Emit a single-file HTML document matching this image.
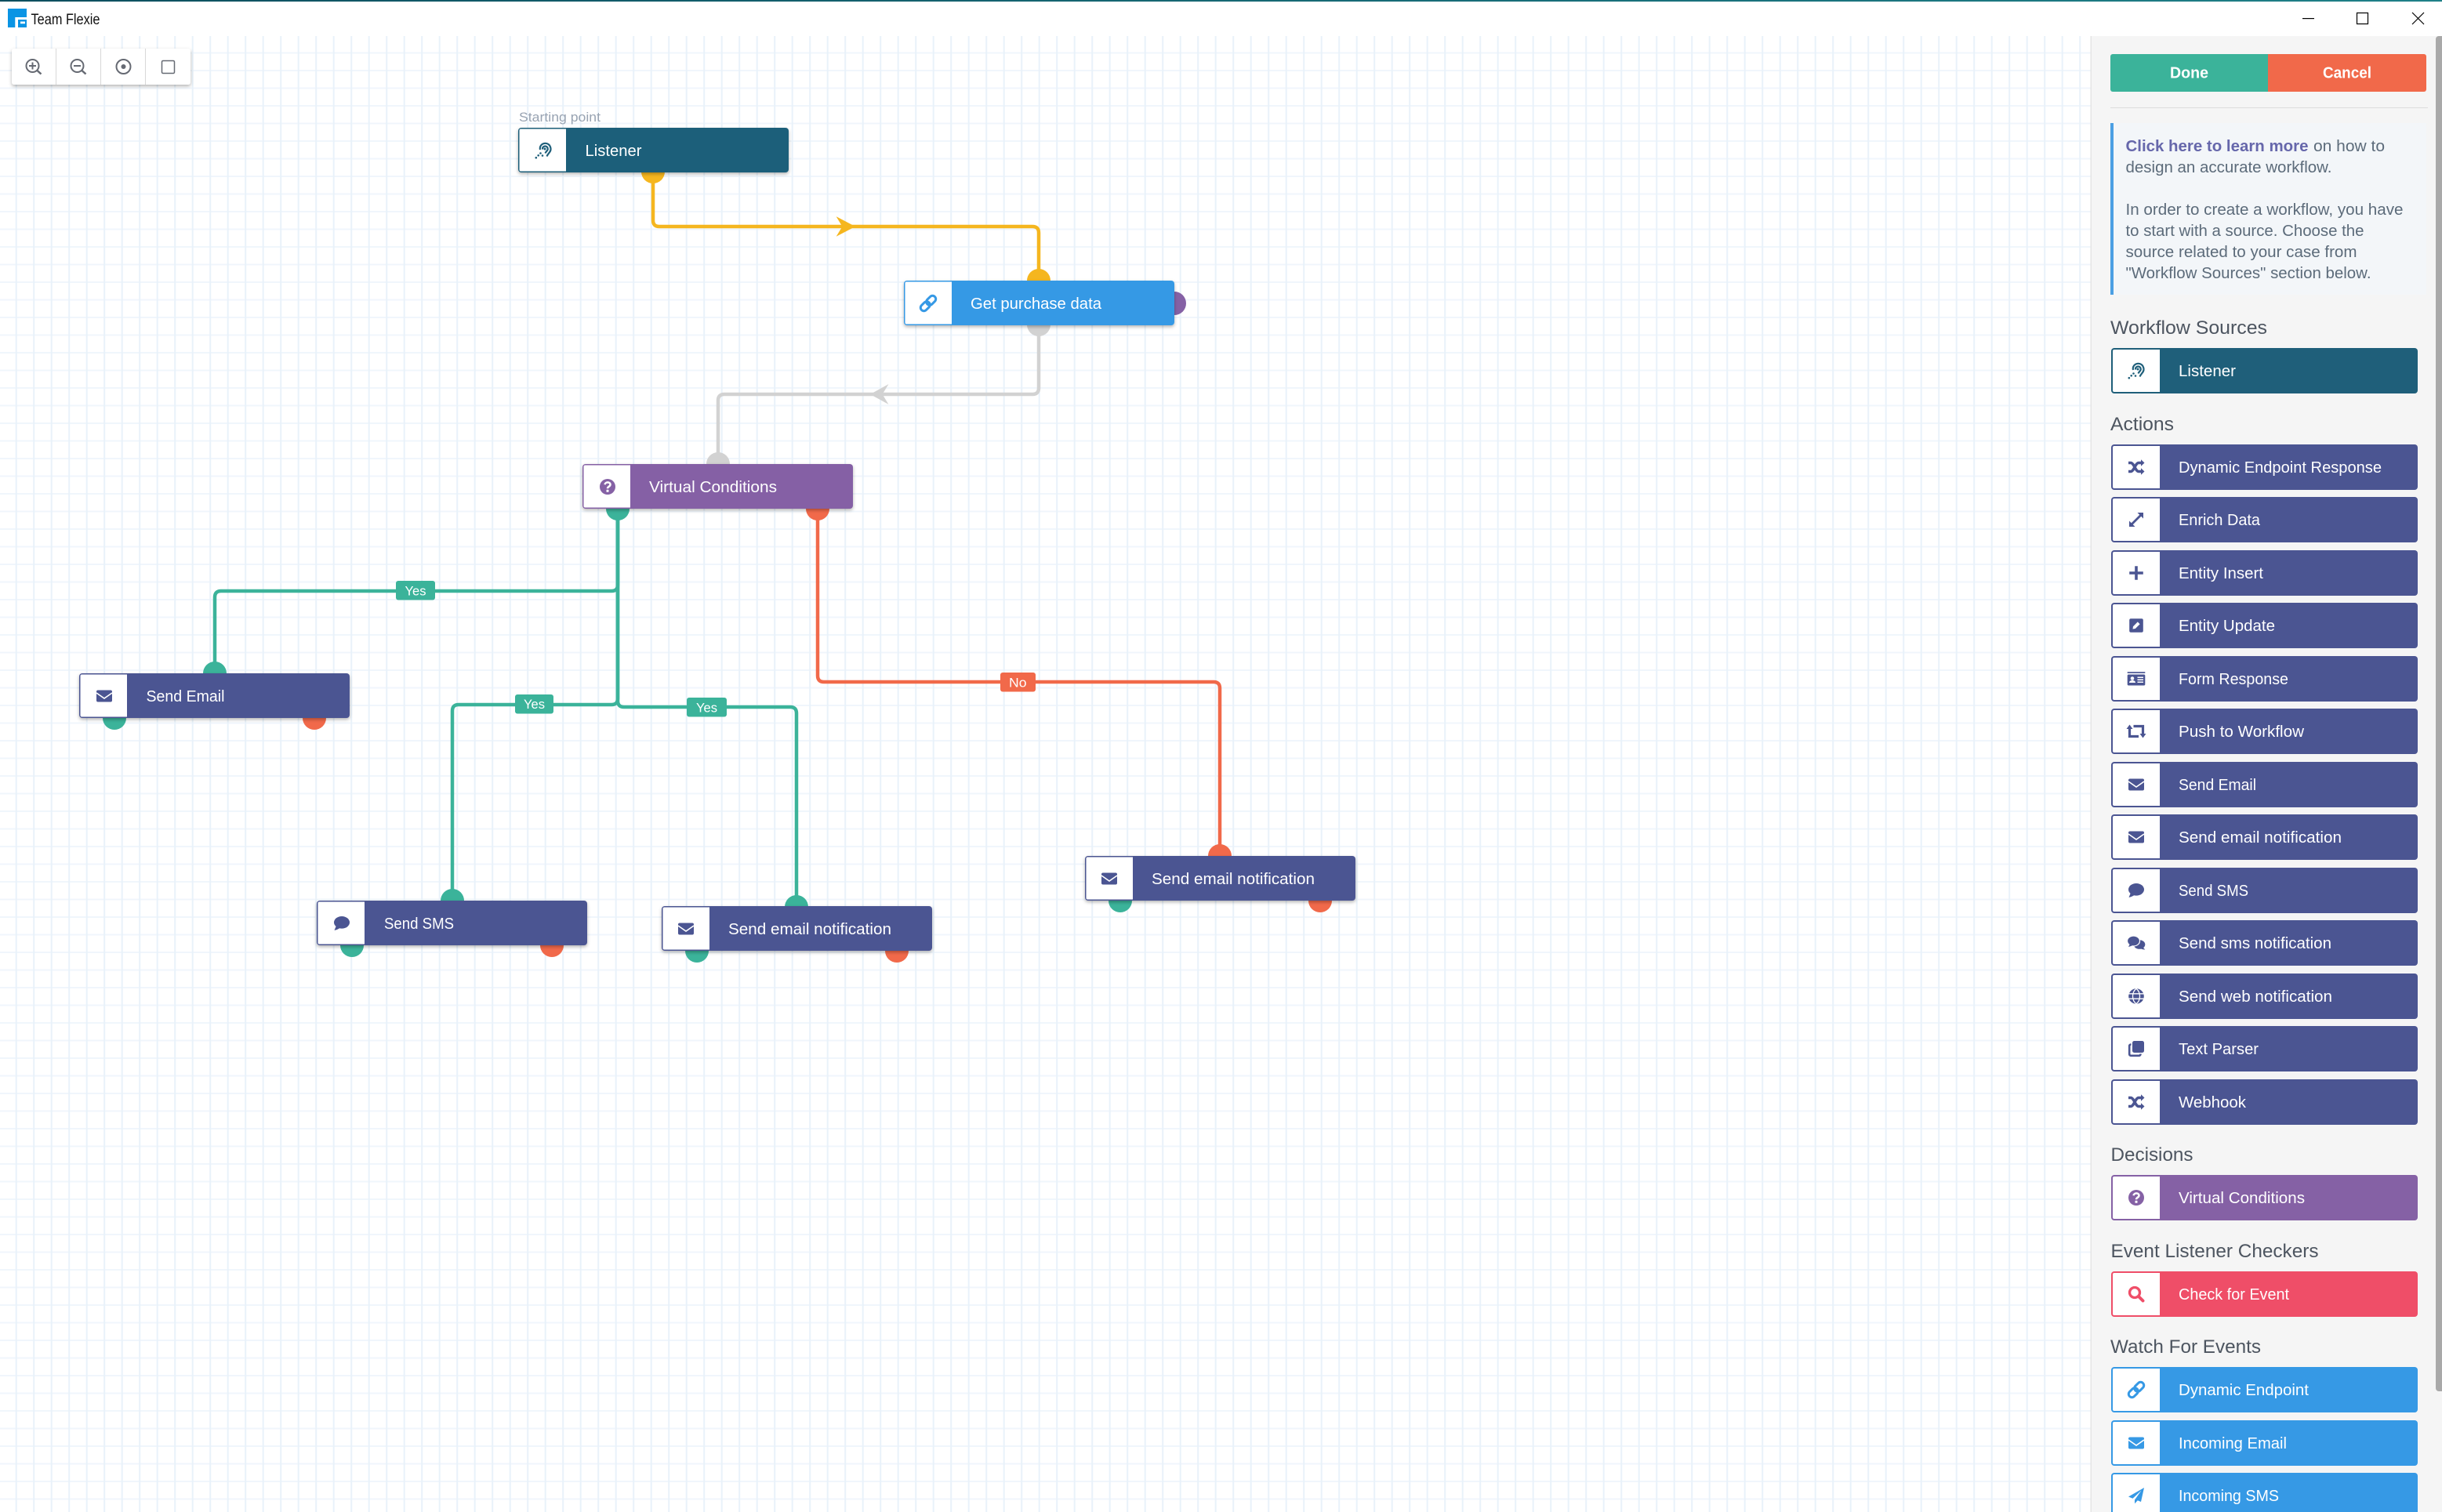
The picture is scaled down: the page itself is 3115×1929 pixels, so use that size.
<!DOCTYPE html>
<html lang="en">
<head>
<meta charset="utf-8">
<title>Team Flexie</title>
<style>
html,body{margin:0;padding:0;width:3115px;height:1929px;overflow:hidden;background:#fff}
svg{display:block}
text{font-family:"Liberation Sans",sans-serif}
.l{fill:#fff;font-size:20.5px}
.h{fill:#4d5560;font-size:24px}
.i{fill:#5c6b7a;font-size:20px}
.t{fill:#fff;font-size:17px}
.c{fill:none;stroke-width:4.5}
</style>
</head>
<body>
<svg width="3115" height="1929" viewBox="0 0 3115 1929" xmlns="http://www.w3.org/2000/svg">
<defs>
<pattern id="grid" x="19.7" y="-1" width="22.5" height="22.5" patternUnits="userSpaceOnUse">
<rect width="22.5" height="2" fill="#f0f6fc"/>
<rect width="2" height="22.5" fill="#e9f2fa"/>
</pattern>
<filter id="sh" x="-5%" y="-20%" width="110%" height="150%"><feDropShadow dx="0" dy="2" stdDeviation="2" flood-color="#000" flood-opacity=".3"/></filter>
<linearGradient id="top" x1="0" x2="1" y1="0" y2="0"><stop offset="0" stop-color="#0d4f5f"/><stop offset="1" stop-color="#1f8088"/></linearGradient>
<g id="env"><rect x="-10" y="-7.5" width="20" height="15" rx="2" fill="currentColor"/><path d="M-10-4L0 3L10-4" fill="none" stroke="#fff" stroke-width="1.6"/></g>
<g id="shuffle"><path d="M-10-5.5H-7C-3-5.5-1 5.5 3 5.5H6M-10 5.5H-7C-3 5.5-1-5.5 3-5.5H6" fill="none" stroke="currentColor" stroke-width="3.4"/><path d="M6-9.8L10.5-5.5L6-1.2ZM6 1.2L10.5 5.5L6 9.8Z" fill="currentColor"/></g>
<g id="expand"><path d="M-5.5 5.5L5.5-5.5" stroke="currentColor" stroke-width="2.8"/><path d="M-9 9V1.5L-1.5 9ZM9-9V-1.5L1.5-9Z" fill="currentColor"/></g>
<path id="plus" d="M-8.8-1.8H-1.8V-8.8H1.8V-1.8H8.8V1.8H1.8V8.8H-1.8V1.8H-8.8Z" fill="currentColor"/>
<g id="edit"><rect x="-8.8" y="-8.8" width="17.6" height="17.6" rx="2" fill="currentColor"/><path d="M-4.5 4.5L-4 1.2L1.8-4.6L4.6-1.8L-1.2 4Z" fill="#fff"/></g>
<g id="card"><rect x="-11.3" y="-8.8" width="22.6" height="1.7" fill="currentColor"/><rect x="-11.3" y="-5.5" width="22.6" height="14" rx="1.5" fill="currentColor"/><circle cx="-5" cy="-.5" r="2.3" fill="#fff"/><path d="M-9 5c0-4 8-4 8 0ZM1.5-2.5H9V-1H1.5ZM1.5.5H9V2H1.5ZM1.5 3.5H9V5H1.5Z" fill="#fff"/></g>
<g id="retweet"><path d="M-8.5-4V6.5H3M-3.5-6.5H8.5V4" fill="none" stroke="currentColor" stroke-width="3.2"/><path d="M-12.5-3L-8.5-8.5L-4.5-3ZM4.500 3L8.5 8.5L12.500 3Z" fill="currentColor"/></g>
<g id="comment"><ellipse cx="0" cy="-1.2" rx="10" ry="7.8" fill="currentColor"/><path d="M-7 3L-9.500 8.800C-6.500 8.500-3.500 7-1.500 5Z" fill="currentColor"/></g>
<g id="comments"><ellipse cx="4" cy="2" rx="7.300" ry="5.800" fill="currentColor"/><path d="M8 5L11.300 8.500C9 8.500 6.500 8 4.500 6.500Z" fill="currentColor"/><ellipse cx="-3.500" cy="-2.500" rx="8" ry="6.500" fill="currentColor" stroke="#fff" stroke-width="1.200"/><path d="M-8 1L-10 5C-7.500 4.500-5.500 3.500-4 2.500Z" fill="currentColor"/></g>
<g id="globe"><circle r="9.800" fill="currentColor"/><path d="M-9.800-3.200H9.800M-9.800 3.200H9.800M0-9.800C-6-5-6 5 0 9.800C6 5 6-5 0-9.800Z" fill="none" stroke="#fff" stroke-width="1.300"/></g>
<g id="copy"><rect x="-5" y="-10" width="15" height="15" rx="2.500" fill="currentColor"/><path d="M-6.500-5.500H-7A2 2 0 0 0-8.800-3.500V7A2 2 0 0 0-6.800 8.800H3.500A2 2 0 0 0 5.500 6.800V6.500" fill="none" stroke="currentColor" stroke-width="2.600"/></g>
<g id="help"><circle r="10" fill="currentColor"/><path d="M-3.400-2.800C-3-6.500 3.500-6.500 3.500-2.800C3.500-.3 0-.3 0 2.200" fill="none" stroke="#fff" stroke-width="2.500"/><rect x="-1.500" y="3.800" width="3" height="3" rx=".6" fill="#fff"/></g>
<g id="search"><circle cx="-2" cy="-2" r="6.500" fill="none" stroke="currentColor" stroke-width="3.300"/><path d="M3 3L8.500 8.500" stroke="currentColor" stroke-width="4" stroke-linecap="round"/></g>
<g id="link"><g transform="rotate(-45)" fill="none" stroke="currentColor" stroke-width="3"><rect x="-12" y="-4.200" width="13.500" height="8.400" rx="4.200"/><rect x="-1.500" y="-4.200" width="13.500" height="8.400" rx="4.200"/></g></g>
<path id="plane" d="M10-10L-10 1.500L-4.500 3.800L6.500-6.500L-2 5.500V10.200L1.800 6.200L6 8Z" fill="currentColor"/>
<g id="ear"><path d="M-4-1C-6-10 8-13 9.500-2.500C10 2 6 3.500 4.500 7.500M-1-1.500C-1.500-6.500 5.500-7 5.800-2C6-.2 3.500 1 2.500 3.500" fill="none" stroke="currentColor" stroke-width="2.200"/><circle cx="2" cy="-2" r="1.500" fill="currentColor"/><circle cx="-3.500" cy="3.500" r="1.300" fill="currentColor"/><circle cx="-6.300" cy="6.300" r="1.300" fill="currentColor"/><circle cx="-9.200" cy="9.200" r="1.300" fill="currentColor"/><circle cx="-1" cy="6.500" r="1.300" fill="currentColor"/></g>
<path id="icobox" d="M4 2H62V56H4A2 2 0 0 1 2 54V4A2 2 0 0 1 4 2Z" fill="#fff"/>
<path id="icoboxc" d="M3.500 1.500H61V55.500H3.500A2 2 0 0 1 1.500 53.500V3.500A2 2 0 0 1 3.500 1.500Z" fill="#fff"/>
</defs>

<rect width="3115" height="1929" fill="#fff"/>
<rect x="0" y="46" width="2668" height="1883" fill="url(#grid)"/>

<!-- title bar -->
<rect x="0" y="0" width="3115" height="2" fill="url(#top)"/>
<rect x="0" y="2" width="3115" height="44" fill="#fff"/>
<rect x="10" y="11" width="24" height="24" fill="#0a94e4"/>
<path d="M19.300 22H34V25H23V35H19.300Z" fill="#fff"/>
<rect x="26" y="27.500" width="6" height="2.700" fill="#fff"/>
<text x="39.500" y="31" font-size="19" fill="#111" textLength="88" lengthAdjust="spacingAndGlyphs">Team Flexie</text>
<rect x="2937" y="23" width="15" height="1.200" fill="#000"/>
<rect x="3006.500" y="16.500" width="14" height="14" fill="none" stroke="#000" stroke-width="1.200"/>
<path d="M3077 16L3092 31M3092 16L3077 31" stroke="#000" stroke-width="1.200" fill="none"/>

<!-- toolbar -->
<g>
<rect x="15" y="62" width="228" height="46" rx="3" fill="#fff" filter="url(#sh)"/>
<path d="M71.500 62V108M128.500 62V108M185.500 62V108" stroke="#d8d8d8" stroke-width="1"/>
<g fill="none" stroke="#666a73" stroke-width="2">
<circle cx="41.500" cy="84" r="8"/><path d="M47.500 90L52.500 94.500" stroke-width="2.500"/><path d="M37 84H46M41.500 79.500V88.500"/>
<circle cx="98.500" cy="84" r="8"/><path d="M104.500 90L109.500 94.500" stroke-width="2.500"/><path d="M94 84H103"/>
<circle cx="157.500" cy="85" r="9"/>
<rect x="206.500" y="77.500" width="16" height="16" rx="1.500" stroke-width="1.500"/>
</g>
<circle cx="157.500" cy="85" r="3" fill="#666a73"/>
</g>

<!-- connectors -->
<path class="c" stroke="#f5b61f" d="M833 220V281Q833 289 841 289H1317Q1325 289 1325 297V358"/>
<path d="M1068 277.500L1090 289L1068 300.500L1075 289Z" fill="#f5b61f" stroke="#f5b61f" stroke-width="1"/>
<path class="c" stroke="#d2d2d2" d="M1325 415V495Q1325 503 1317 503H924Q916 503 916 511V592"/>
<path d="M1132 491.500L1111 503L1132 514.500L1125 503Z" fill="#d2d2d2" stroke="#d2d2d2" stroke-width="1"/>
<path class="c" stroke="#3bb39a" d="M788 649V746Q788 754 780 754H282Q274 754 274 762V859"/>
<path class="c" stroke="#3bb39a" d="M788 649V891Q788 899 780 899H585Q577 899 577 907V1149"/>
<path class="c" stroke="#3bb39a" d="M788 649V894Q788 902 796 902H1008Q1016 902 1016 910V1157"/>
<path class="c" stroke="#f1694a" d="M1043 649V862Q1043 870 1051 870H1548Q1556 870 1556 878V1092"/>

<!-- ports -->
<g fill="#f5b61f"><circle cx="833" cy="219" r="15"/><circle cx="1325" cy="358" r="15"/></g>
<g fill="#d2d2d2"><circle cx="1325" cy="414" r="15"/><circle cx="916" cy="592" r="15"/></g>
<circle cx="1498" cy="387" r="15" fill="#8561a5"/>
<g fill="#3bb39a">
<circle cx="788" cy="649" r="15"/><circle cx="274" cy="859" r="15"/><circle cx="146" cy="916" r="15"/>
<circle cx="577" cy="1149" r="15"/><circle cx="449" cy="1206" r="15"/>
<circle cx="1016" cy="1157" r="15"/><circle cx="889" cy="1213" r="15"/><circle cx="1429" cy="1149" r="15"/>
</g>
<g fill="#f1694a">
<circle cx="1043" cy="649" r="15"/><circle cx="401" cy="916" r="15"/><circle cx="704" cy="1206" r="15"/>
<circle cx="1144" cy="1213" r="15"/><circle cx="1684" cy="1149" r="15"/><circle cx="1556" cy="1092" r="15"/>
</g>

<!-- connector labels -->
<g fill="#3bb39a"><rect x="505" y="741" width="50" height="24.500" rx="3"/><rect x="657" y="886" width="49" height="24.500" rx="3"/><rect x="876" y="890" width="51" height="24.500" rx="3"/></g>
<rect x="1276" y="858" width="45" height="24.500" rx="3" fill="#f1694a"/>
<text class="t" x="516.500" y="759.500" textLength="27" lengthAdjust="spacingAndGlyphs">Yes</text>
<text class="t" x="668" y="904" textLength="27" lengthAdjust="spacingAndGlyphs">Yes</text>
<text class="t" x="888" y="908.500" textLength="27" lengthAdjust="spacingAndGlyphs">Yes</text>
<text class="t" x="1287" y="876.500" textLength="22.500" lengthAdjust="spacingAndGlyphs">No</text>

<!-- canvas nodes -->
<text x="662" y="155" font-size="17" fill="#98a3b2" textLength="104" lengthAdjust="spacingAndGlyphs">Starting point</text>

<g transform="translate(661,163)" style="color:#1f5f7a"><rect width="345" height="57" rx="4" fill="currentColor" filter="url(#sh)"/><use href="#icoboxc"/><use href="#ear" x="32" y="29"/><text class="l" x="85.500" y="36" textLength="72" lengthAdjust="spacingAndGlyphs">Listener</text></g>
<g transform="translate(1153,358)" style="color:#3699e5"><rect width="345" height="57" rx="4" fill="currentColor" filter="url(#sh)"/><use href="#icoboxc"/><use href="#link" x="31" y="29"/><text class="l" x="85" y="36" textLength="167" lengthAdjust="spacingAndGlyphs">Get purchase data</text></g>
<g transform="translate(743,592)" style="color:#8561a5"><rect width="345" height="57" rx="4" fill="currentColor" filter="url(#sh)"/><use href="#icoboxc"/><use href="#help" x="32" y="29"/><text class="l" x="85" y="36" textLength="163" lengthAdjust="spacingAndGlyphs">Virtual Conditions</text></g>
<g transform="translate(101,859)" style="color:#4b5592"><rect width="345" height="57" rx="4" fill="currentColor" filter="url(#sh)"/><use href="#icoboxc"/><use href="#env" x="32" y="29"/><text class="l" x="85.500" y="36" textLength="100" lengthAdjust="spacingAndGlyphs">Send Email</text></g>
<g transform="translate(404,1149)" style="color:#4b5592"><rect width="345" height="57" rx="4" fill="currentColor" filter="url(#sh)"/><use href="#icoboxc"/><use href="#comment" x="32" y="29"/><text class="l" x="86" y="36" textLength="89" lengthAdjust="spacingAndGlyphs">Send SMS</text></g>
<g transform="translate(844,1156)" style="color:#4b5592"><rect width="345" height="57" rx="4" fill="currentColor" filter="url(#sh)"/><use href="#icoboxc"/><use href="#env" x="31" y="29"/><text class="l" x="85" y="36" textLength="208" lengthAdjust="spacingAndGlyphs">Send email notification</text></g>
<g transform="translate(1384,1092)" style="color:#4b5592"><rect width="345" height="57" rx="4" fill="currentColor" filter="url(#sh)"/><use href="#icoboxc"/><use href="#env" x="31" y="29"/><text class="l" x="85" y="36" textLength="208" lengthAdjust="spacingAndGlyphs">Send email notification</text></g>

<!-- sidebar -->
<rect x="2666.500" y="46" width="1.500" height="1883" fill="#e4e4e4"/>
<rect x="2668" y="46" width="447" height="1883" fill="#f5f5f5"/>
<path d="M3115 46H3111A4 4 0 0 0 3107 50V1771A4 4 0 0 0 3111 1775H3115Z" fill="#a9a9a9"/>

<path d="M2695 69H2893V117H2695A3 3 0 0 1 2692 114V72A3 3 0 0 1 2695 69Z" fill="#3bb39a"/>
<path d="M2893 69H3092A3 3 0 0 1 3095 72V114A3 3 0 0 1 3092 117H2893Z" fill="#f1694a"/>
<text x="2768" y="99.500" font-size="20.500" font-weight="bold" fill="#fff" textLength="49" lengthAdjust="spacingAndGlyphs">Done</text>
<text x="2963" y="99.500" font-size="20.500" font-weight="bold" fill="#fff" textLength="62" lengthAdjust="spacingAndGlyphs">Cancel</text>
<rect x="2692" y="137" width="405" height="1" fill="#dcdcdc"/>

<rect x="2692" y="157" width="403" height="219" fill="#f3f6f9"/>
<rect x="2692" y="157" width="4" height="219" fill="#4b9fe3"/>
<text x="2711.500" y="193" font-size="20" font-weight="bold" fill="#6667ab" textLength="233" lengthAdjust="spacingAndGlyphs">Click here to learn more</text>
<text class="i" x="2951" y="193" textLength="91" lengthAdjust="spacingAndGlyphs">on how to</text>
<text class="i" x="2711.500" y="220" textLength="263" lengthAdjust="spacingAndGlyphs">design an accurate workflow.</text>
<text class="i" x="2711.500" y="274" textLength="354" lengthAdjust="spacingAndGlyphs">In order to create a workflow, you have</text>
<text class="i" x="2711.500" y="301" textLength="304" lengthAdjust="spacingAndGlyphs">to start with a source. Choose the</text>
<text class="i" x="2711.500" y="328" textLength="295" lengthAdjust="spacingAndGlyphs">source related to your case from</text>
<text class="i" x="2711.500" y="355" textLength="313" lengthAdjust="spacingAndGlyphs">"Workflow Sources" section below.</text>

<text class="h" x="2692" y="426" textLength="200" lengthAdjust="spacingAndGlyphs">Workflow Sources</text>
<text class="h" x="2692" y="549" textLength="81" lengthAdjust="spacingAndGlyphs">Actions</text>
<text class="h" x="2692.500" y="1481" textLength="105" lengthAdjust="spacingAndGlyphs">Decisions</text>
<text class="h" x="2692.500" y="1604" textLength="265" lengthAdjust="spacingAndGlyphs">Event Listener Checkers</text>
<text class="h" x="2692" y="1726" textLength="192" lengthAdjust="spacingAndGlyphs">Watch For Events</text>

<g transform="translate(2693,444)" style="color:#1f5f7a"><rect width="391" height="58" rx="4" fill="currentColor"/><use href="#icobox"/><use href="#ear" x="32" y="29"/><text class="l" x="86" y="36" textLength="73" lengthAdjust="spacingAndGlyphs">Listener</text></g>

<g style="color:#4b5592">
<g transform="translate(2693,567)"><rect width="391" height="58" rx="4" fill="currentColor"/><use href="#icobox"/><use href="#shuffle" x="32" y="29"/><text class="l" x="86" y="36" textLength="259" lengthAdjust="spacingAndGlyphs">Dynamic Endpoint Response</text></g>
<g transform="translate(2693,634)"><rect width="391" height="58" rx="4" fill="currentColor"/><use href="#icobox"/><use href="#expand" x="32" y="29"/><text class="l" x="86" y="36" textLength="104" lengthAdjust="spacingAndGlyphs">Enrich Data</text></g>
<g transform="translate(2693,702)"><rect width="391" height="58" rx="4" fill="currentColor"/><use href="#icobox"/><use href="#plus" x="32" y="29"/><text class="l" x="86" y="36" textLength="108" lengthAdjust="spacingAndGlyphs">Entity Insert</text></g>
<g transform="translate(2693,769)"><rect width="391" height="58" rx="4" fill="currentColor"/><use href="#icobox"/><use href="#edit" x="32" y="29"/><text class="l" x="86" y="36" textLength="123" lengthAdjust="spacingAndGlyphs">Entity Update</text></g>
<g transform="translate(2693,837)"><rect width="391" height="58" rx="4" fill="currentColor"/><use href="#icobox"/><use href="#card" x="32" y="29"/><text class="l" x="86" y="36" textLength="140" lengthAdjust="spacingAndGlyphs">Form Response</text></g>
<g transform="translate(2693,904)"><rect width="391" height="58" rx="4" fill="currentColor"/><use href="#icobox"/><use href="#retweet" x="32" y="29"/><text class="l" x="86" y="36" textLength="160" lengthAdjust="spacingAndGlyphs">Push to Workflow</text></g>
<g transform="translate(2693,972)"><rect width="391" height="58" rx="4" fill="currentColor"/><use href="#icobox"/><use href="#env" x="32" y="29"/><text class="l" x="86" y="36" textLength="99" lengthAdjust="spacingAndGlyphs">Send Email</text></g>
<g transform="translate(2693,1039)"><rect width="391" height="58" rx="4" fill="currentColor"/><use href="#icobox"/><use href="#env" x="32" y="29"/><text class="l" x="86" y="36" textLength="208" lengthAdjust="spacingAndGlyphs">Send email notification</text></g>
<g transform="translate(2693,1107)"><rect width="391" height="58" rx="4" fill="currentColor"/><use href="#icobox"/><use href="#comment" x="32" y="29"/><text class="l" x="86" y="36" textLength="89" lengthAdjust="spacingAndGlyphs">Send SMS</text></g>
<g transform="translate(2693,1174)"><rect width="391" height="58" rx="4" fill="currentColor"/><use href="#icobox"/><use href="#comments" x="32" y="29"/><text class="l" x="86" y="36" textLength="195" lengthAdjust="spacingAndGlyphs">Send sms notification</text></g>
<g transform="translate(2693,1242)"><rect width="391" height="58" rx="4" fill="currentColor"/><use href="#icobox"/><use href="#globe" x="32" y="29"/><text class="l" x="86" y="36" textLength="196" lengthAdjust="spacingAndGlyphs">Send web notification</text></g>
<g transform="translate(2693,1309)"><rect width="391" height="58" rx="4" fill="currentColor"/><use href="#icobox"/><use href="#copy" x="32" y="29"/><text class="l" x="86" y="36" textLength="102" lengthAdjust="spacingAndGlyphs">Text Parser</text></g>
<g transform="translate(2693,1377)"><rect width="391" height="58" rx="4" fill="currentColor"/><use href="#icobox"/><use href="#shuffle" x="32" y="29"/><text class="l" x="86" y="36" textLength="86" lengthAdjust="spacingAndGlyphs">Webhook</text></g>
</g>

<g transform="translate(2693,1499)" style="color:#8561a5"><rect width="391" height="58" rx="4" fill="currentColor"/><use href="#icobox"/><use href="#help" x="32" y="29"/><text class="l" x="86" y="36" textLength="161" lengthAdjust="spacingAndGlyphs">Virtual Conditions</text></g>
<g transform="translate(2693,1622)" style="color:#ef4e68"><rect width="391" height="58" rx="4" fill="currentColor"/><use href="#icobox"/><use href="#search" x="32" y="29"/><text class="l" x="86" y="36" textLength="141" lengthAdjust="spacingAndGlyphs">Check for Event</text></g>

<g style="color:#3699e5">
<g transform="translate(2693,1744)"><rect width="391" height="58" rx="4" fill="currentColor"/><use href="#icobox"/><use href="#link" x="32" y="29"/><text class="l" x="86" y="36" textLength="166" lengthAdjust="spacingAndGlyphs">Dynamic Endpoint</text></g>
<g transform="translate(2693,1812)"><rect width="391" height="58" rx="4" fill="currentColor"/><use href="#icobox"/><use href="#env" x="32" y="29"/><text class="l" x="86" y="36" textLength="138" lengthAdjust="spacingAndGlyphs">Incoming Email</text></g>
<g transform="translate(2693,1879)"><rect width="391" height="58" rx="4" fill="currentColor"/><use href="#icobox"/><use href="#plane" x="32" y="29"/><text class="l" x="86" y="36" textLength="128" lengthAdjust="spacingAndGlyphs">Incoming SMS</text></g>
</g>
</svg>
</body>
</html>
